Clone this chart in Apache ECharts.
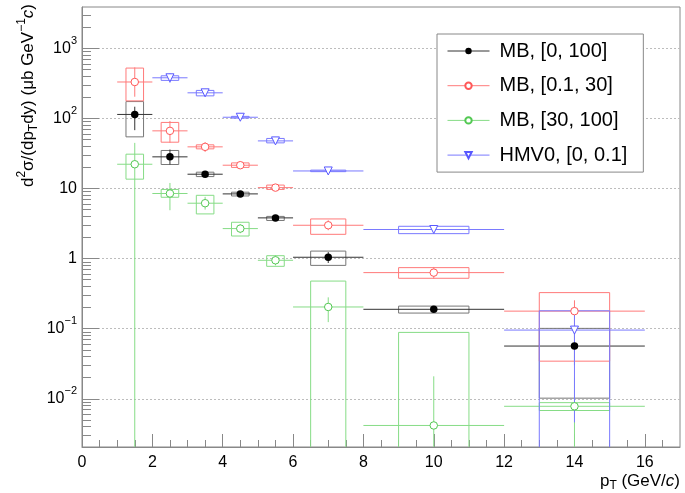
<!DOCTYPE html>
<html><head><meta charset="utf-8">
<script src="https://cdn.jsdelivr.net/npm/echarts@6/dist/echarts.min.js"></script>
<style>html,body{margin:0;padding:0;background:#fff}#c{width:685px;height:493px}</style>
</head><body><div id="c"></div>
<script>
// ---- bins ----
const ptMB = [1.5, 2.5, 3.5, 4.5, 5.5, 7, 10, 14];
const binLoMB = [1, 2, 3, 4, 5, 6, 8, 12];
const binHiMB = [2, 3, 4, 5, 6, 8, 12, 16];
const ptHM = [2.5, 3.5, 4.5, 5.5, 7, 10, 14];
const binLoHM = [2, 3, 4, 5, 6, 8, 12];
const binHiHM = [3, 4, 5, 6, 8, 12, 16];

// ---- MB, [0, 100] ----
const mbAll = [114, 28.3, 16.0, 8.38, 3.81, 1.045, 0.189, 0.0565];
const mbAllStatLo = [68, 22, 14.8, 7.9, 3.55, 0.865, 0.178, 0.03];
const mbAllStatHi = [147, 36, 17.4, 8.9, 4.1, 1.24, 0.2, 0.085];
const mbAllSysLo = [54.6, 22.0, 14.8, 7.83, 3.5, 0.80, 0.167, 0.0102];
const mbAllSysHi = [174, 34.9, 17.1, 8.86, 4.0, 1.28, 0.21, 0.101];

// ---- MB, [0.1, 30] ----
const mbHigh = [331, 66.5, 39.3, 21.5, 10.3, 2.99, 0.631, 0.178];
const mbHighStatLo = [204, 45, 33.3, 19.5, 9.3, 2.54, 0.52, 0.11];
const mbHighStatHi = [535, 92, 45.8, 24, 11.5, 3.52, 0.76, 0.254];
const mbHighSysLo = [178, 45.8, 36.8, 20, 9.7, 2.22, 0.524, 0.0344];
const mbHighSysHi = [523, 87.7, 42, 23.2, 11.2, 3.68, 0.743, 0.327];

// ---- MB, [30, 100] ----
const mbLow = [22.2, 8.49, 6.17, 2.68, 0.946, 0.204, 0.00416, 0.00781];
const mbLowStatLo = [0.00001, 4.9, 5.0, 2.3, 0.8, 0.124, 0.00001, 0.00001];
const mbLowStatHi = [44.8, 12, 7.6, 3.1, 1.12, 0.28, 0.0209, 0.02];
const mbLowSysLo = [13.6, 7.5, 4.34, 2.1, 0.776, 0.00001, 0.00001, 0.0068];
const mbLowSysHi = [30.9, 9.7, 8.0, 3.3, 1.10, 0.478, 0.0885, 0.0088];

// ---- HMV0, [0, 0.1] ----
const hmv = [380, 232, 104, 47.8, 17.8, 2.6, 0.0955];
const hmvStatLo = [323, 212, 100, 45, 17.2, 2.5, 0.0046];
const hmvStatHi = [440, 252, 108, 51, 18.4, 2.7, 0.178];
const hmvSysLo = [349, 210, 101, 44.8, 17.4, 2.27, 0.00001];
const hmvSysHi = [406, 251, 107, 51.8, 18.3, 2.89, 0.18];

const seriesNames = ['MB, [0, 100]', 'MB, [0.1, 30]', 'MB, [30, 100]', 'HMV0, [0, 0.1]'];

// ---- axes ----
const xMin = 0, xMax = 17;
const yMin = 0.00205, yMax = 3890;
const xLabelValues = [0, 2, 4, 6, 8, 10, 12, 14, 16];
const xMajorTicks = [2, 4, 6, 8, 10, 12, 14, 16];
const xMinorTicks = [0.5, 1, 1.5, 2.5, 3, 3.5, 4.5, 5, 5.5, 6.5, 7, 7.5, 8.5, 9, 9.5, 10.5, 11, 11.5, 12.5, 13, 13.5, 14.5, 15, 15.5, 16.5];
const yLabelValues = [0.01, 0.1, 1, 10, 100, 1000];
const yMinorTicks = [0.003, 0.004, 0.005, 0.006, 0.007, 0.008, 0.009,
  0.02, 0.03, 0.04, 0.05, 0.06, 0.07, 0.08, 0.09,
  0.2, 0.3, 0.4, 0.5, 0.6, 0.7, 0.8, 0.9,
  2, 3, 4, 5, 6, 7, 8, 9,
  20, 30, 40, 50, 60, 70, 80, 90,
  200, 300, 400, 500, 600, 700, 800, 900,
  2000, 3000];

const FONT = '"Liberation Sans", Arial, Helvetica, sans-serif';
const AX = '#888';

function rows(pt, v, sLo, sHi, bLo, bHi, xl, xh) {
  return pt.map((x, i) => [x, v[i], sLo[i], sHi[i], bLo[i], bHi[i], xl[i], xh[i]]);
}
function makeRender(boxColor, barColor) {
  return function (params, api) {
    const x = api.value(0), y = api.value(1), sLo = api.value(2), sHi = api.value(3);
    const bLo = api.value(4), bHi = api.value(5), xl = api.value(6), xh = api.value(7);
    const hw = (xh - xl) / 4;
    const p1 = api.coord([x - hw, bHi]), p2 = api.coord([x + hw, bLo]);
    const h1 = api.coord([xl, y]), h2 = api.coord([xh, y]);
    const v1 = api.coord([x, sLo]), v2 = api.coord([x, sHi]);
    return { type: 'group', children: [
      { type: 'rect', shape: { x: p1[0], y: p1[1], width: p2[0] - p1[0], height: p2[1] - p1[1] },
        style: { fill: 'none', stroke: boxColor, lineWidth: 1 } },
      { type: 'line', shape: { x1: h1[0], y1: h1[1], x2: h2[0], y2: h2[1] }, style: { stroke: barColor, lineWidth: 1 } },
      { type: 'line', shape: { x1: v1[0], y1: v1[1], x2: v2[0], y2: v2[1] }, style: { stroke: barColor, lineWidth: 1 } }
    ]};
  };
}

const sets = [
  { name: seriesNames[0], data: rows(ptMB, mbAll, mbAllStatLo, mbAllStatHi, mbAllSysLo, mbAllSysHi, binLoMB, binHiMB),
    box: '#777', bar: '#333', sym: 'circle', size: 7.5, fill: '#000', stroke: '#000', lcolor: '#333', rot: 0, bw: 0 },
  { name: seriesNames[1], data: rows(ptMB, mbHigh, mbHighStatLo, mbHighStatHi, mbHighSysLo, mbHighSysHi, binLoMB, binHiMB),
    box: '#ff7a7a', bar: '#ff7a7a', sym: 'circle', size: 7.5, fill: '#fff', stroke: '#ff5858', lcolor: '#ff7a7a', rot: 0, bw: 1 },
  { name: seriesNames[2], data: rows(ptMB, mbLow, mbLowStatLo, mbLowStatHi, mbLowSysLo, mbLowSysHi, binLoMB, binHiMB),
    box: '#86dc86', bar: '#86dc86', sym: 'circle', size: 7.5, fill: '#fff', stroke: '#52c852', lcolor: '#86dc86', rot: 0, bw: 1 },
  { name: seriesNames[3], data: rows(ptHM, hmv, hmvStatLo, hmvStatHi, hmvSysLo, hmvSysHi, binLoHM, binHiHM),
    box: '#7a7aff', bar: '#7a7aff', sym: 'triangle', size: 8, fill: '#fff', stroke: '#5858ff', lcolor: '#7a7aff', rot: 180, bw: 1 }
];

const series = [];
sets.forEach(s => {
  series.push({ type: 'custom', name: s.name + ' unc', data: s.data, renderItem: makeRender(s.box, s.bar),
    encode: { x: 0, y: 1 }, clip: true, silent: true, xAxisIndex: 0, yAxisIndex: 0 });
  series.push({ type: 'line', name: s.name, data: s.data.map(r => [r[0], r[1]]), symbol: s.sym, symbolSize: s.size,
    symbolRotate: s.rot, showSymbol: true, showAllSymbol: true,
    itemStyle: { color: s.fill, borderColor: s.stroke, borderWidth: s.bw },
    lineStyle: { color: s.lcolor, width: 1, opacity: 0 }, silent: true, clip: true, xAxisIndex: 0, yAxisIndex: 0 });
});

function yFmt(v) {
  const e = Math.round(Math.log10(v));
  if (e === 0) return '1';
  if (e === 1) return '10';
  return '10{s|' + (e < 0 ? '\u2212' + (-e) : e) + '}';
}

const chart = echarts.init(document.getElementById('c'), null, { renderer: 'canvas' });
chart.setOption({
  animation: false,
  backgroundColor: '#fff',
  grid: { left: 82, right: 5, top: 7, bottom: 46, show: true, borderColor: AX, borderWidth: 1, backgroundColor: 'transparent' },
  xAxis: [
    { type: 'value', min: xMin, max: xMax, position: 'bottom',
      axisLine: { show: true, onZero: false, lineStyle: { color: AX } },
      axisTick: { show: true, inside: true, length: 13, customValues: xMajorTicks, lineStyle: { color: AX } },
      axisLabel: { show: true, customValues: xLabelValues, fontSize: 16, color: '#000', margin: 8, fontFamily: FONT },
      splitLine: { show: false } },
    { type: 'value', min: xMin, max: xMax, position: 'bottom',
      axisLine: { show: false, onZero: false },
      axisTick: { show: true, inside: true, length: 7, customValues: xMinorTicks, lineStyle: { color: AX } },
      axisLabel: { show: false }, splitLine: { show: false } }
  ],
  yAxis: [
    { type: 'log', logBase: 10, min: yMin, max: yMax, position: 'left',
      axisLine: { show: true, onZero: false, lineStyle: { color: AX } },
      axisTick: { show: true, inside: true, length: 17, customValues: yLabelValues, lineStyle: { color: AX } },
      axisLabel: { show: true, customValues: yLabelValues, formatter: yFmt, fontSize: 16, lineHeight: 26, color: '#000', margin: 5, fontFamily: FONT,
        rich: { s: { fontSize: 11, lineHeight: 13, verticalAlign: 'top', fontFamily: FONT, color: '#000' } } },
      splitLine: { show: true, lineStyle: { color: '#bdbdbd', width: 1, type: [2, 2] } } },
    { type: 'log', logBase: 10, min: yMin, max: yMax, position: 'left',
      axisLine: { show: false, onZero: false },
      axisTick: { show: true, inside: true, length: 9, customValues: yMinorTicks, lineStyle: { color: AX } },
      axisLabel: { show: false }, splitLine: { show: false } }
  ],
  legend: {
    show: true, orient: 'vertical', left: 437, top: 34, padding: [7, 16, 7, 10], itemGap: 14.7,
    itemWidth: 42, itemHeight: 8, backgroundColor: '#fff', borderColor: AX, borderWidth: 1,
    selectedMode: false, data: seriesNames,
    lineStyle: { width: 1, opacity: 1 },
    textStyle: { fontSize: 20, lineHeight: 20, fontFamily: FONT, color: '#000', padding: [0, 0, 0, 5] }
  },
  graphic: [
    { type: 'text', x: 28, y: 4, rotation: Math.PI / 2, silent: true,
      style: { text: 'd{sup|2}\u03c3/(dp{sub|T}dy) (\u03bcb GeV{sup|\u22121}{it|c})', fontSize: 17, lineHeight: 24,
        fontFamily: FONT, fill: '#000', align: 'right', verticalAlign: 'middle',
        rich: { sup: { fontSize: 12, lineHeight: 13, verticalAlign: 'top', fontFamily: FONT },
                sub: { fontSize: 12, lineHeight: 13, verticalAlign: 'bottom', fontFamily: FONT },
                it: { fontSize: 17, lineHeight: 24, fontStyle: 'italic', fontFamily: FONT } } } },
    { type: 'text', x: 680, y: 481, silent: true,
      style: { text: 'p{sub|T} (GeV/{it|c})', fontSize: 17, lineHeight: 22, fontFamily: FONT, fill: '#000',
        align: 'right', verticalAlign: 'middle',
        rich: { sub: { fontSize: 12, lineHeight: 12, verticalAlign: 'bottom', fontFamily: FONT },
                it: { fontSize: 17, lineHeight: 22, fontStyle: 'italic', fontFamily: FONT } } } }
  ],
  series: series
});
</script>
</body></html>
